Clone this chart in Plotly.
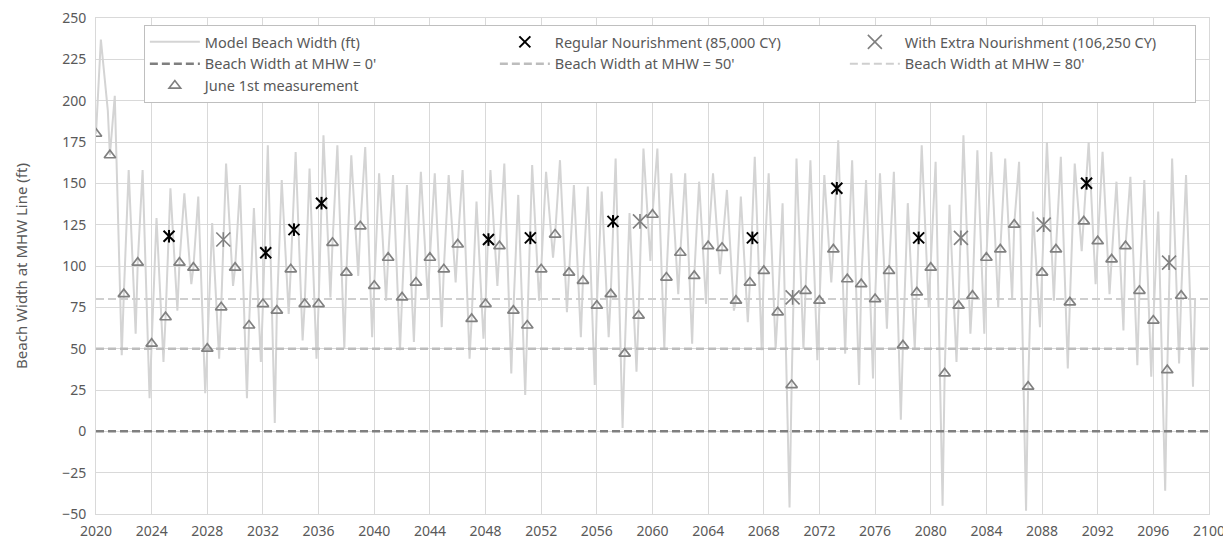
import plotly.graph_objects as go

# ---------------- data ----------------
years = list(range(2020, 2099))

june_w = [180, 167, 83, 102, 53, 69, 102, 99, 50, 75,
          99, 64, 77, 73, 98, 77, 77, 114, 96, 124,
          88, 105, 81, 90, 105, 98, 113, 68, 77, 112,
          73, 64, 98, 119, 96, 91, 76, 83, 47, 70,
          131, 93, 108, 94, 112, 111, 79, 90, 97, 72,
          28, 85, 79, 110, 92, 89, 80, 97, 52, 84,
          99, 35, 76, 82, 105, 110, 125, 27, 96, 110,
          78, 127, 115, 104, 112, 85, 67, 37, 82]

# seasonal peak of the model line after each June 1st
peak_w = [237, 203, 158, 158, 129, 147, 144, 142, 126, 162,
          149, 135, 173, 152, 169, 159, 179, 173, 167, 172,
          156, 155, 149, 157, 156, 155, 158, 139, 158, 162,
          143, 161, 157, 164, 149, 148, 145, 165, 132, 171,
          171, 156, 156, 151, 156, 146, 142, 166, 156, 138,
          165, 164, 155, 176, 164, 152, 156, 157, 138, 173,
          163, 137, 179, 170, 169, 165, 163, 133, 175, 166,
          162, 175, 169, 151, 154, 152, 133, 165, 155]

# winter trough of the model line before the next June 1st
trough_w = [194, 46, 59, 20, 42, 73, 89, 23, 44, 88,
            20, 42, 5, 71, 55, 44, 81, 50, 94, 57,
            79, 49, 54, 80, 63, 90, 44, 56, 88, 35,
            22, 79, 105, 72, 57, 28, 57, 2, 36, 103,
            50, 83, 53, 77, 95, 73, 66, 49, 50, -46,
            50, 43, 90, 47, 28, 32, 62, 7, 50, 75,
            -45, 42, 59, 59, 75, 80, -48, 63, 79, 38,
            109, 89, 83, 61, 40, 33, -36, 41, 27]

model_end_t = 2099.0
model_end_w = 80

reg_t = [2025.25, 2032.2, 2034.23, 2036.21, 2048.21, 2051.22, 2057.16,
         2067.18, 2073.25, 2079.13, 2091.2]
reg_w = [118, 108, 122, 138, 116, 117, 127, 117, 147, 117, 150]

extra_t = [2029.15, 2059.1, 2070.07, 2082.17, 2088.12, 2097.13]
extra_w = [116, 127, 81, 117, 125, 102]

ref_levels = [0, 50, 80]
x_span = [2020, 2100]

# ---------------- build model line ----------------
model_t, model_w = [], []
for i, y in enumerate(years):
    model_t += [y, y + 0.35, y + 0.85]
    model_w += [june_w[i], peak_w[i], trough_w[i]]
model_t.append(model_end_t)
model_w.append(model_end_w)

FONT = "Noto Sans"
TXT = "#595959"

fig = go.Figure()

fig.add_trace(go.Scatter(
    x=model_t, y=model_w, mode="lines", name="Model Beach Width (ft)",
    line=dict(color="#d4d4d4", width=2), legendrank=1))

ref_styles = [("#7f7f7f", 2.5), ("#bdbdbd", 2.5), ("#cfcfcf", 2.0)]
names = ["Beach Width at MHW = 0'", "Beach Width at MHW = 50'", "Beach Width at MHW = 80'"]
for k, lev in enumerate(ref_levels):
    c, w = ref_styles[k]
    fig.add_trace(go.Scatter(
        x=x_span, y=[lev, lev], mode="lines", name=names[k],
        line=dict(color=c, width=w, dash="8px,4px"), legendrank=4 + k))

fig.add_trace(go.Scatter(
    x=years, y=june_w, mode="markers", name="June 1st measurement",
    marker=dict(symbol="triangle-up-open", size=10, color="#808080",
                line=dict(width=1.7)), legendrank=7))

# Regular nourishment star (X + vertical bar)
fig.add_trace(go.Scatter(
    x=reg_t, y=reg_w, mode="markers", name="Regular Nourishment (85,000 CY)",
    marker=dict(symbol="x-thin-open", size=11, color="#000000",
                line=dict(width=2)), legendrank=2))
fig.add_trace(go.Scatter(
    x=reg_t, y=reg_w, mode="markers", showlegend=False,
    marker=dict(symbol="line-ns-open", size=9, color="#000000",
                line=dict(width=2))))

fig.add_trace(go.Scatter(
    x=extra_t, y=extra_w, mode="markers", name="With Extra Nourishment (106,250 CY)",
    marker=dict(symbol="x-thin-open", size=14, color="#808080",
                line=dict(width=1.6)), legendrank=3))
fig.add_trace(go.Scatter(
    x=extra_t, y=extra_w, mode="markers", showlegend=False,
    marker=dict(symbol="line-ns-open", size=10.5, color="#808080",
                line=dict(width=1.6))))

# The page body has an 8px margin, so the figure is 8px smaller and the
# margins are reduced by 8px on the left/top to keep the plot area in place.
fig.update_layout(
    width=1223, height=535,
    margin=dict(l=88, r=22, t=10, b=29, autoexpand=False),
    paper_bgcolor="white", plot_bgcolor="white",
    font=dict(family=FONT, size=14, color=TXT),
    legend=dict(
        orientation="h", x=0.043, y=0.986, xanchor="left", yanchor="top",
        entrywidth=285, itemwidth=50, bgcolor="white",
        bordercolor="#bfbfbf", borderwidth=1,
        font=dict(family=FONT, size=14.5, color=TXT),
        tracegroupgap=0),
    showlegend=True,
)
fig.update_xaxes(
    range=x_span, dtick=4, tick0=2020, showgrid=True, gridcolor="#d9d9d9",
    gridwidth=1, zeroline=False, showline=True, linecolor="#d9d9d9",
    mirror=True, ticks="", ticklabelstandoff=4, automargin=False,
    ticklabeloverflow="allow",
    tickfont=dict(family=FONT, size=14, color=TXT))
fig.update_yaxes(
    range=[-50, 250], dtick=25, tick0=0, showgrid=True, gridcolor="#d9d9d9",
    gridwidth=1, zeroline=False, showline=True, linecolor="#d9d9d9",
    mirror=True, ticks="", ticklabelstandoff=6, automargin=False,
    ticklabeloverflow="allow",
    tickfont=dict(family=FONT, size=14, color=TXT),
    title=dict(text="Beach Width at MHW Line (ft)", standoff=30,
               font=dict(family=FONT, size=15, color=TXT)))

fig.write_html("out.html")
